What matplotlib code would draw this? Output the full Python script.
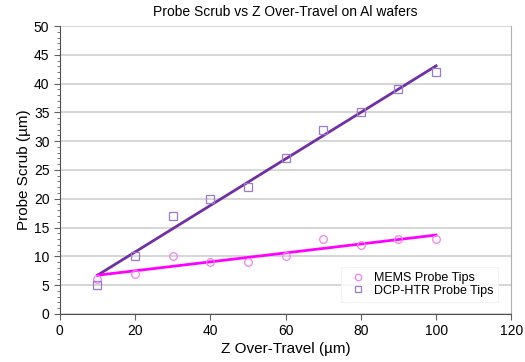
import matplotlib
matplotlib.use("Agg")
import matplotlib.pyplot as plt
import numpy as np

plt.rcParams['font.family'] = ['Liberation Sans', 'DejaVu Sans']

travel = [10, 20, 30, 40, 50, 60, 70, 80, 90, 100]
mems_scrub = [6, 7, 10, 9, 9, 10, 13, 12, 13, 13]
dcp_scrub = [5, 10, 17, 20, 22, 27, 32, 35, 39, 42]

fig = plt.figure(figsize=(5.25, 3.62), dpi=100)
ax = fig.add_axes([0.114, 0.133, 0.860, 0.795])

x = np.array(travel)
# linear trend lines
for ys, lc in [(dcp_scrub, '#7030A0'), (mems_scrub, '#FF00FF')]:
    k, b = np.polyfit(x, ys, 1)
    xs = np.array([x.min(), x.max()])
    ax.plot(xs, k * xs + b, color=lc, lw=2, zorder=3)

ax.plot(travel, mems_scrub, 'o', ms=5.5, mfc='none', mec='#F080F0', mew=0.9,
        label='MEMS Probe Tips', zorder=4)
ax.plot(travel, dcp_scrub, 's', ms=5.5, mfc='none', mec='#9A7AC8', mew=0.9,
        label='DCP-HTR Probe Tips', zorder=4)

ax.set_xlim(0, 120)
ax.set_ylim(0, 50)
ax.set_xticks(range(0, 121, 20))
ax.set_yticks(range(0, 51, 5))
ax.set_yticks(range(0, 51, 1), minor=True)
ax.grid(axis='y', which='major', color='#D0D0D0', lw=1.2)
ax.set_axisbelow(True)
ax.tick_params(labelsize=10, color='#606060', direction='out', length=4)
ax.tick_params(which='minor', length=2, color='#606060')

for s in ['left', 'bottom']:
    ax.spines[s].set_color('#505050')
ax.spines['right'].set_color('#B0B0B0')
ax.spines['top'].set_visible(False)

ax.set_title('Probe Scrub vs Z Over-Travel on Al wafers', fontsize=10, pad=7)
ax.set_xlabel('Z Over-Travel (µm)', fontsize=11, labelpad=3)
ax.set_ylabel('Probe Scrub (µm)', fontsize=11, labelpad=2)

leg = ax.legend(loc='lower right', bbox_to_anchor=(0.985, 0.02), fontsize=9,
                frameon=True, fancybox=False, handletextpad=0.4,
                borderpad=0.4, labelspacing=0.05, handlelength=1.8,
                markerscale=0.85)
leg.get_frame().set_edgecolor('#F0F0F0')
leg.get_frame().set_linewidth(0.8)

fig.savefig('out.png', dpi=100)
